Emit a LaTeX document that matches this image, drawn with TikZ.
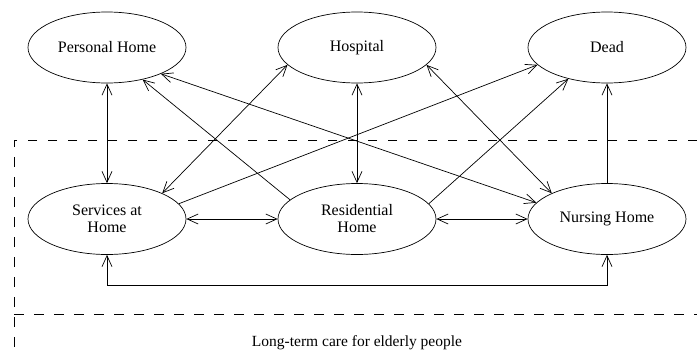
\documentclass[tikz,border=0pt]{standalone}
\usepackage{fontspec}
\setmainfont{Liberation Serif}
\usetikzlibrary{shapes.geometric,arrows.meta}
\begin{document}
\begin{tikzpicture}[
			x=1pt, y=-1pt,
			line width=0.7pt,
			>={Straight Barb[length=11pt,width=10pt]},
			place/.style={ellipse, draw, minimum width=158pt, minimum height=71pt, inner sep=0, align=center, font=\fontsize{16}{17}\selectfont},
			fence/.style={dash pattern=on 9.5pt off 10.5pt},
		]
		\useasboundingbox (0,0) rectangle (697,354);
		% states
		\node[place] (home) at (107,47.5) {Personal Home};
		\node[place] (hospital) at (357,47.5) {Hospital};
		\node[place] (dead) at (607,47.5) {Dead};
		\node[place] (services) at (107,219) {Services at\\Home};
		\node[place] (residential) at (357,219) {Residential\\Home};
		\node[place] (nursing) at (607,219) {Nursing Home};
		% long-term care box
		\draw[fence] (697,140) -| (14,354);
		\draw[fence] (14,314) -- (697,314);
		\node[font=\fontsize{15.5}{17}\selectfont] (caption) at (357,343) {Long-term care for elderly people};
		% transitions
		\draw[<->] (home) -- (services);
		\draw[<->] (hospital) -- (residential);
		\draw[->] (nursing) -- (dead);
		\draw[<->] (services) -- (residential);
		\draw[<->] (residential) -- (nursing);
		\draw[<->] (services.south) -- ++(0,30) -| (nursing.south);
		\draw[->] (residential.164.6) -- (home.318);
		\draw[<->] (home.334) -- (nursing.167);
		\draw[<->] (hospital.194) -- (services.25);
		\draw[->] (services.12.5) -- (dead.194);
		\draw[->] (residential.12.5) -- (dead.219);
		\draw[<->] (hospital.346) -- (nursing.155.5);
		\end{tikzpicture}
\end{document}
